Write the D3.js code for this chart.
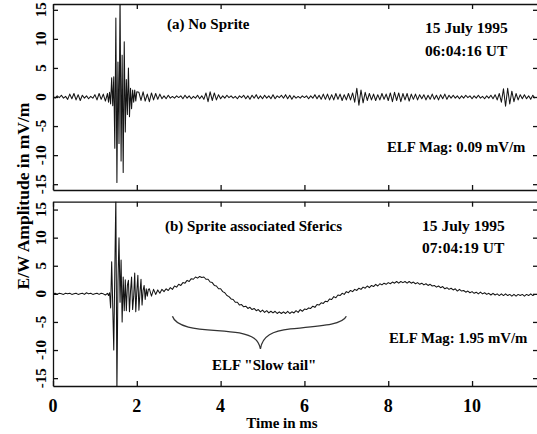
<!DOCTYPE html>
<html>
<head>
<meta charset="utf-8">
<script src="https://cdn.jsdelivr.net/npm/d3@7"></script>
<style>
html, body { margin: 0; padding: 0; background: #fff; }
svg { display: block; }
text { font-family: "Liberation Serif", "Times New Roman", serif; font-weight: bold; fill: #000; }
</style>
</head>
<body>
<svg id="chart" width="537" height="434"></svg>
<script>
const stepCoarse = 0.05;
const stepFine = 0.025;
const burstStart = 1.3;
const postStartA = 2.05;
const postStartB = 2.30;

const xTicks = [0, 2, 4, 6, 8, 10];
const xTickLabels = ["0", "2", "4", "6", "8", "10"];
const yTicks = [-15, -10, -5, 0, 5, 10, 15];
const yTickLabels = ["-15", "-10", "-5", "0", "5", "10", "15"];

const panelTitles = ["(a) No Sprite", "(b) Sprite associated Sferics"];
const panelDates = ["15 July 1995", "15 July 1995"];
const panelTimes = ["06:04:16 UT", "07:04:19 UT"];
const elfMags = ["ELF Mag: 0.09 mV/m", "ELF Mag: 1.95 mV/m"];
const tailLabel = 'ELF "Slow tail"';

// (a) no sprite, mV/m
const preA = [
  0.1, -0.2, 0.2, -0.1, 0.3, -0.2, 0.1, -0.4, 0.5, -0.3,
  0.6, -0.5, 0.4, -0.6, 0.3, -0.2, 0.2, -0.3, 0.1, -0.2,
  0.4, -0.5, 0.6, -0.4, 0.5, -0.7
];
const burstA = [
  0.6, -0.9, 0.8, -1.2, 3.3, -1.5, 3.5, -8.8, 13.6, -14.7,
  6.0, -8.0, 17.5, -11.0, 7.2, -13.0, 9.5, -6.0, 3.0, -3.0,
  5.0, -3.4, 1.5, -2.0, 1.2, -0.9, 1.2, -0.7, 0.9
];
const postA = [
  0.8, -0.6, 0.9, -0.7, 0.5, -0.8, 0.7, -0.5, 0.6, -0.4,
  0.5, -0.3, 0.2, -0.3, 0.3, -0.2, 0.1, -0.2, 0.2, -0.1,
  0.2, -0.3, 0.3, -0.2, 0.2, -0.3, 0.1, -0.2, 0.3, -0.3,
  0.2, -0.4, 0.7, -0.8, 0.9, -0.6, 0.7, -0.5, 0.4, -0.3,
  0.2, -0.2, 0.3, -0.1, 0.2, -0.2, 0.1, -0.3, 0.2, -0.1,
  0.3, -0.3, 0.2, -0.4, 0.3, -0.2, 0.4, -0.3, 0.2, -0.3,
  0.3, -0.2, 0.2, -0.3, 0.4, -0.3, 0.2, -0.1, 0.3, -0.2,
  0.4, -0.3, 0.3, -0.4, 0.2, -0.2, 0.1, -0.2, 0.2, -0.1,
  0.2, -0.3, 0.2, -0.2, 0.4, -0.3, 0.3, -0.4, 0.5, -0.4,
  0.5, -0.5, 0.4, -0.5, 0.6, -0.4, 0.5, -0.6, 0.4, -0.5,
  0.6, -0.5, 0.7, -0.9, 1.5, -1.4, 1.2, -1.0, 0.8, -0.6,
  0.6, -0.5, 0.5, -0.6, 0.4, -0.5, 0.6, -0.4, 0.5, -0.6,
  0.7, -0.8, 0.8, -0.6, 0.7, -0.8, 0.6, -0.5, 0.6, -0.7,
  0.5, -0.4, 0.5, -0.5, 0.4, -0.3, 0.4, -0.5, 0.3, -0.4,
  0.5, -0.4, 0.3, -0.5, 0.4, -0.3, 0.5, -0.4, 0.3, -0.2,
  0.3, -0.2, 0.2, -0.3, 0.2, -0.2, 0.3, -0.1, 0.2, -0.3,
  0.2, -0.2, 0.3, -0.2, 0.1, -0.3, 0.2, -0.2, 0.3, -0.3,
  0.4, -0.5, 0.6, -0.9, 1.4, -1.6, 1.5, -1.2, 1.0, -0.8,
  0.6, -0.5, 0.4, -0.3, 0.4, -0.3, 0.2, -0.4, 0.3, -0.2
];

// (b) sprite associated sferic, mV/m
const preB = [
  0.0, 0.1, -0.1, 0.1, 0.0, -0.1, 0.1, 0.0, 0.1, -0.1,
  0.0, 0.1, -0.1, 0.0, 0.1, -0.1, 0.2, 0.0, 0.1, -0.1,
  0.0, 0.1, -0.1, 0.1, 0.0, -0.2
];
const burstB = [
  0.1, -0.3, 0.2, -2.5, 5.7, -2.0, -10.0, 4.0, 17.5, -17.5,
  2.0, 10.0, -1.5, 6.0, -5.0, 3.0, -3.0, 2.5, -3.0, 1.5,
  2.4, -3.2, 0.5, 3.0, -2.8, -0.5, 3.7, -3.2, 0.4, 3.3,
  -2.9, 0.2, 2.6, -2.0, 0.6, 1.5, -1.0, 0.9, -0.4, 0.8
];
const postB = [
  0.9, -0.4, 0.8, -0.1, 0.7, 0.1, 0.8, 0.4, 0.9, 0.6,
  1.1, 0.8, 1.4, 1.2, 1.7, 1.5, 2.0, 1.9, 2.4, 2.2,
  2.7, 2.6, 3.0, 2.8, 3.1, 2.9, 3.0, 2.6, 2.6, 2.1,
  2.0, 1.5, 1.4, 0.9, 0.9, 0.4, 0.2, -0.3, -0.5, -0.9,
  -1.0, -1.5, -1.5, -2.0, -1.9, -2.3, -2.2, -2.6, -2.4, -2.8,
  -2.6, -3.0, -2.8, -3.2, -2.9, -3.3, -3.0, -3.4, -3.1, -3.4,
  -3.1, -3.5, -3.2, -3.5, -3.2, -3.5, -3.1, -3.5, -3.2, -3.4,
  -3.0, -3.3, -2.8, -3.1, -2.7, -2.8, -2.5, -2.6, -2.2, -2.4,
  -1.9, -2.0, -1.6, -1.7, -1.3, -1.4, -0.9, -1.0, -0.5, -0.7,
  -0.2, -0.3, 0.1, -0.1, 0.4, 0.2, 0.6, 0.4, 0.8, 0.6,
  1.0, 0.8, 1.2, 1.0, 1.4, 1.1, 1.5, 1.3, 1.7, 1.4,
  1.8, 1.6, 1.9, 1.7, 2.0, 1.8, 2.1, 1.9, 2.2, 1.9,
  2.2, 2.0, 2.2, 1.9, 2.2, 1.9, 2.1, 1.8, 2.0, 1.7,
  1.9, 1.6, 1.8, 1.5, 1.7, 1.4, 1.5, 1.2, 1.4, 1.1,
  1.3, 0.9, 1.1, 0.8, 1.0, 0.7, 0.9, 0.5, 0.8, 0.5,
  0.6, 0.3, 0.5, 0.2, 0.4, 0.1, 0.3, 0.0, 0.3, 0.0,
  0.2, -0.1, 0.1, -0.2, 0.1, -0.2, 0.0, -0.3, 0.0, -0.3,
  0.0, -0.3, -0.1, -0.4, -0.1, -0.4, -0.1, -0.3, -0.1, -0.4,
  -0.1, -0.3, 0.0, -0.3, -0.1
];

function buildTrace(pre, burst, post, postStart) {
  const pts = [];
  pre.forEach((v, i) => pts.push({ t: +(i * stepCoarse).toFixed(3), v }));
  burst.forEach((v, i) => pts.push({ t: +(burstStart + i * stepFine).toFixed(3), v }));
  post.forEach((v, i) => pts.push({ t: +(postStart + i * stepCoarse).toFixed(3), v }));
  return pts;
}

const traces = [
  buildTrace(preA, burstA, postA, postStartA),
  buildTrace(preB, burstB, postB, postStartB)
];

const svg = d3.select("#chart");
const left = 53, right = 537;
const x = d3.scaleLinear().domain([0, 11.55]).range([left, right]);

const panels = [
  { top: 4, bottom: 190, lim: 16 },
  { top: 201.7, bottom: 386, lim: 16.4 }
];

// text layout (px)
const titleY = [29, 231];
const dateY = [33, 231];
const timeY = [56, 253];
const magY = [152, 343];
const dateX = [425, 422];
const magX = [387, 389];

panels.forEach((p, k) => {
  const y = d3.scaleLinear().domain([-p.lim, p.lim]).range([p.bottom, p.top]);
  const g = svg.append("g");

  g.append("clipPath").attr("id", "clip" + k)
    .append("rect")
    .attr("x", left).attr("y", p.top)
    .attr("width", right - left).attr("height", p.bottom - p.top);

  const line = d3.line().x(d => x(d.t)).y(d => y(d.v));
  g.append("path")
    .datum(traces[k])
    .attr("clip-path", `url(#clip${k})`)
    .attr("d", line)
    .attr("fill", "none")
    .attr("stroke", "#151515")
    .attr("stroke-width", 1.05)
    .attr("stroke-linejoin", "round");

  // frame and inward ticks
  const axes = [
    g.append("g").attr("transform", `translate(0,${p.bottom})`)
      .call(d3.axisBottom(x).tickValues(xTicks).tickSize(-5).tickSizeOuter(0).tickFormat("")),
    g.append("g").attr("transform", `translate(0,${p.top})`)
      .call(d3.axisTop(x).tickValues(xTicks).tickSize(-5).tickSizeOuter(0).tickFormat("")),
    g.append("g").attr("transform", `translate(${left},0)`)
      .call(d3.axisLeft(y).tickValues(yTicks).tickSize(-5).tickSizeOuter(0).tickFormat(""))
  ];
  const rightAxis = g.append("g").attr("transform", `translate(${right},0)`)
    .call(d3.axisRight(y).tickValues(yTicks).tickSize(-4).tickFormat(""));
  rightAxis.select(".domain").remove();
  axes.push(rightAxis);
  axes.forEach(a => {
    a.selectAll("path, line").attr("stroke", "#111").attr("stroke-width", 1.3);
  });

  // y tick labels (rotated)
  yTicks.forEach((v, i) => {
    g.append("text")
      .attr("transform", `translate(46,${y(v)}) rotate(-90)`)
      .attr("text-anchor", "middle")
      .style("font-size", "15px")
      .text(yTickLabels[i]);
  });

  // annotations
  g.append("text").attr("x", k === 0 ? 167 : 165).attr("y", titleY[k])
    .style("font-size", "15px").text(panelTitles[k]);
  g.append("text").attr("x", dateX[k]).attr("y", dateY[k])
    .style("font-size", "15.5px").text(panelDates[k]);
  g.append("text").attr("x", dateX[k]).attr("y", timeY[k])
    .style("font-size", "15.5px").text(panelTimes[k]);
  g.append("text").attr("x", magX[k]).attr("y", magY[k])
    .style("font-size", "14.8px").text(elfMags[k]);

  if (k === 1) {
    // brace under the slow tail
    const bx0 = x(2.85), bxm = x(4.95), bx1 = x(7.0);
    const by0 = y(-4.0), bym = y(-9.8), byc = y(-6.6);
    const brace = d3.path();
    brace.moveTo(bx0, by0);
    brace.bezierCurveTo(bx0 + 5, by0 + 15, bx0 + 40, byc - 2, bx0 + 67, byc + 2);
    brace.bezierCurveTo(bxm - 8, byc + 5, bxm - 2, byc + 8, bxm, bym);
    brace.bezierCurveTo(bxm + 2, byc + 5, bxm + 12, byc, bxm + 30, byc - 2);
    brace.bezierCurveTo(bx1 - 25, byc - 5, bx1 - 4, byc - 6, bx1, by0);
    g.append("path").attr("d", brace.toString())
      .attr("fill", "none").attr("stroke", "#333").attr("stroke-width", 1.3);

    g.append("text").attr("x", 212).attr("y", 370)
      .style("font-size", "15px").text(tailLabel);

    xTicks.forEach((v, i) => {
      g.append("text").attr("x", x(v)).attr("y", 412)
        .attr("text-anchor", "middle")
        .style("font-size", "18px")
        .text(xTickLabels[i]);
    });
  }
});

// axis titles
svg.append("text")
  .attr("transform", "translate(29,196) rotate(-90)")
  .attr("text-anchor", "middle")
  .style("font-size", "17.5px")
  .text("E/W Amplitude in mV/m");

svg.append("text")
  .attr("x", 282).attr("y", 428)
  .attr("text-anchor", "middle")
  .style("font-size", "15px")
  .text("Time in ms");
</script>
</body>
</html>
